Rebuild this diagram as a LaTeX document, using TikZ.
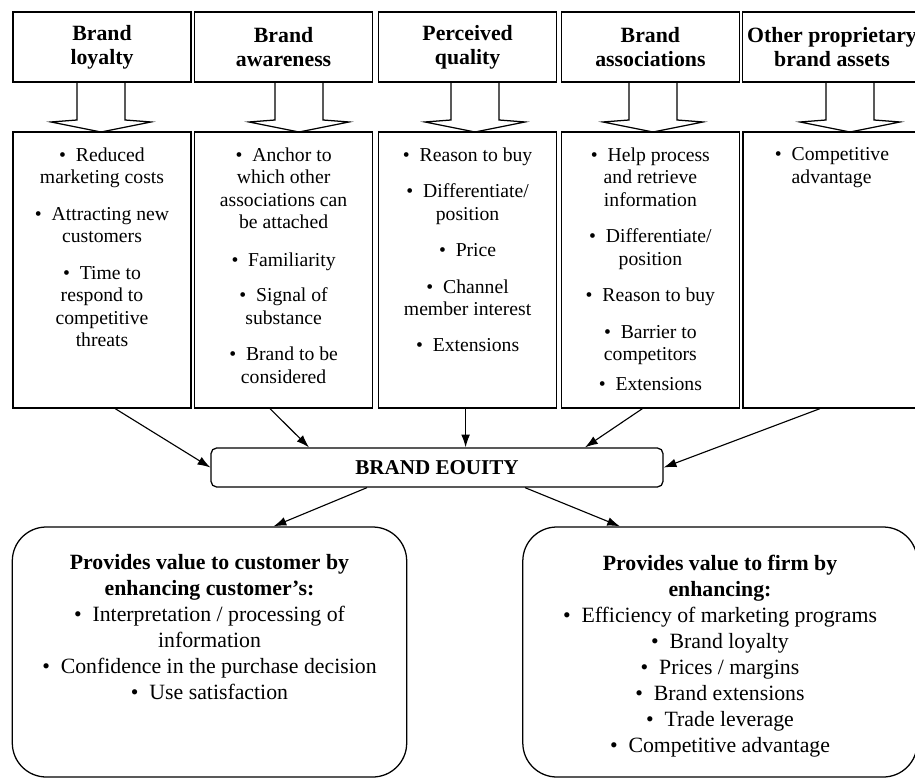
\documentclass[tikz,border=0pt]{standalone}
\usepackage{fontspec}
\setmainfont{Liberation Serif}
\usetikzlibrary{arrows.meta}

\newcommand{\itm}{\textbullet\hspace{0.5em}}

\begin{document}
\begin{tikzpicture}[
	head/.style={draw,line width=0.9pt,minimum width=4.45cm,minimum height=1.75cm,align=center,font=\fontsize{15.5}{17}\selectfont\bfseries},
	cbox/.style={draw,line width=0.9pt,minimum width=4.45cm,minimum height=6.9cm},
	ctext/.style={anchor=north,inner sep=0pt,align=center,font=\fontsize{14}{16}\selectfont},
	vbox/.style={draw,line width=0.9pt,rounded corners=0.85cm,minimum width=9.86cm,minimum height=6.25cm},
	vtext/.style={anchor=north,inner sep=0pt,align=center,font=\fontsize{15.5}{18.5}\selectfont},
	arr/.style={-{Latex[length=3.2mm,width=2.2mm]},line width=0.8pt}
	]
		\useasboundingbox (0,0) rectangle (22.875,19.5);
		
		% sources of equity
		\foreach \n/\x/\txt in {h1/2.55/{Brand\\loyalty},h2/7.09/{Brand\\awareness},h3/11.69/{Perceived\\quality},h4/16.26/{Brand\\associations},h5/20.8/{Other proprietary\\brand assets}}
		{
		\node[head] (\n) at (\x,18.325) {\txt};
		}
		
		\foreach \x in {2.525,7.475,11.875,16.325,21.25}
		{
		\draw[line width=0.9pt] (\x-0.6,17.45) -- (\x-0.6,16.5) -- (\x-1.25,16.45) -- (\x,16.2) -- (\x+1.25,16.45) -- (\x+0.6,16.5) -- (\x+0.6,17.45);
		}
		
		% what each one gives
		\node[cbox] (b1) at (2.55,12.75) {};
		\node[cbox] (b2) at (7.09,12.75) {};
		\node[cbox] (b3) at (11.69,12.75) {};
		\node[cbox] (b4) at (16.26,12.75) {};
		\node[cbox] (b5) at (20.8,12.75) {};
		
		\node[ctext] (t1) at ([yshift=-0.4cm]b1.north) {\itm Reduced\\marketing costs\\[10pt]\itm Attracting new\\customers\\[10pt]\itm Time to\\respond to\\competitive\\threats};
		\node[ctext] (t2) at ([yshift=-0.4cm]b2.north) {\itm Anchor to\\which other\\associations can\\be attached\\[11pt]\itm Familiarity\\[9pt]\itm Signal of\\substance\\[10pt]\itm Brand to be\\considered};
		\node[ctext] (t3) at ([yshift=-0.4cm]b3.north) {\itm Reason to buy\\[10pt]\itm Differentiate/\\position\\[10pt]\itm Price\\[10pt]\itm Channel\\member interest\\[9pt]\itm Extensions};
		\node[ctext] (t4) at ([yshift=-0.4cm]b4.north) {\itm Help process\\and retrieve\\information\\[10pt]\itm Differentiate/\\position\\[10pt]\itm Reason to buy\\[10pt]\itm Barrier to\\competitors\\[5pt]\itm Extensions};
		\node[ctext,align=left] (t5) at ([yshift=-0.4cm]b5.north) {\itm Competitive\\\phantom{\itm}advantage};
		
		% brand equity
		\node[draw,line width=0.9pt,rounded corners=4pt,minimum width=11.3cm,minimum height=0.975cm,font=\fontsize{15}{18}\selectfont\bfseries] (eq) at (10.925,7.8125) {BRAND EOUITY};
		
		\draw[arr] ([xshift=0.33cm]b1.south) -- (eq.west);
		\draw[arr] ([xshift=-0.34cm]b2.south) -- ([xshift=-3.2cm]eq.north);
		\draw[arr] ([xshift=-0.05cm]b3.south) -- ([xshift=-0.05cm]b3.south |- eq.north);
		\draw[arr] ([xshift=-0.2cm]b4.south) -- ([xshift=3.7cm]eq.north);
		\draw[arr] ([xshift=-0.3cm]b5.south) -- (eq.east);
		
		% value
		\node[vbox] (cust) at (5.2375,3.2) {};
		\node[vbox] (firm) at (18.0,3.2) {};
		\node[vtext] (custtxt) at ([yshift=-0.7cm]cust.north) {\textbf{Provides value to customer by}\\\textbf{enhancing customer's:}\\\itm Interpretation / processing of\\information\\\itm Confidence in the purchase decision\\\itm Use satisfaction};
		\node[vtext] (firmtxt) at ([yshift=-0.7cm]firm.north) {\textbf{Provides value to firm by}\\\textbf{enhancing:}\\\itm Efficiency of marketing programs\\\itm Brand loyalty\\\itm Prices / margins\\\itm Brand extensions\\\itm Trade leverage\\\itm Competitive advantage};
		
		\draw[arr] ([xshift=-1.75cm]eq.south) -- ([xshift=1.6cm]cust.north);
		\draw[arr] ([xshift=2.2cm]eq.south) -- ([xshift=-2.5cm]firm.north);
	\end{tikzpicture}
\end{document}
